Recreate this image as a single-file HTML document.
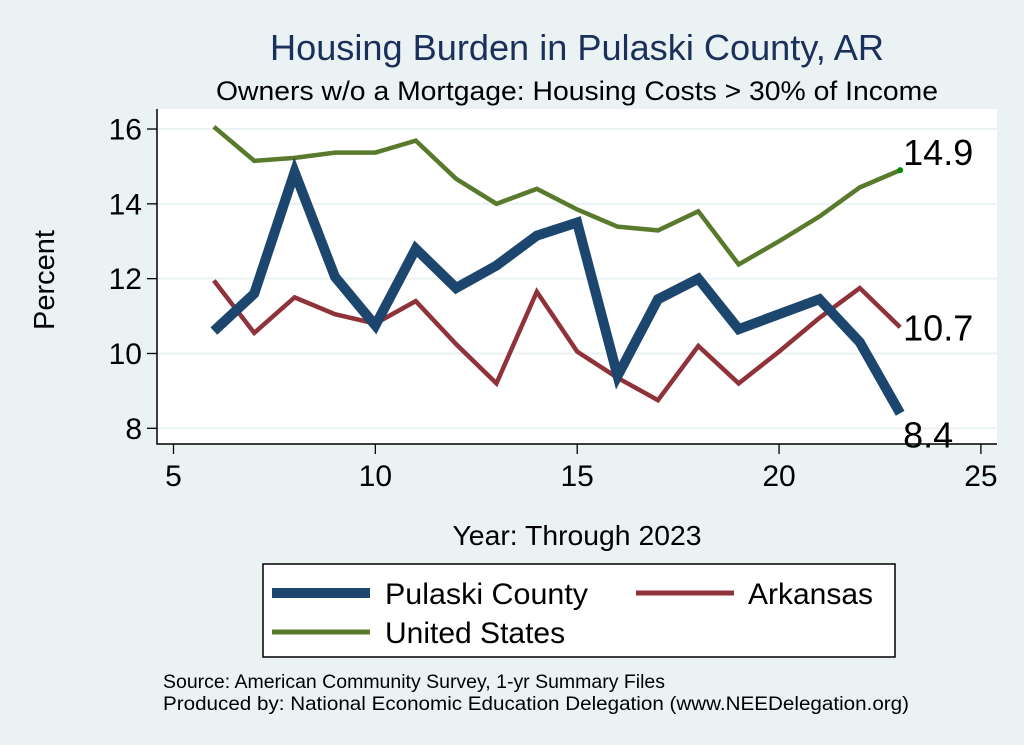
<!DOCTYPE html>
<html><head><meta charset="utf-8"><style>
body{margin:0;background:#eaf2f3;}
svg{display:block;font-family:"Liberation Sans",sans-serif;}
</style></head><body>
<svg id="chart" width="1024" height="745">
<rect x="0" y="0" width="1024" height="745" fill="#eaf2f3"/>
<text x="577" y="60" font-size="36" fill="#1a2f5a" text-anchor="middle" textLength="614" lengthAdjust="spacingAndGlyphs">Housing Burden in Pulaski County, AR</text>
<text x="577" y="100" font-size="27" fill="#000" text-anchor="middle" textLength="722" lengthAdjust="spacingAndGlyphs">Owners w/o a Mortgage: Housing Costs &gt; 30% of Income</text>
<rect x="157" y="109" width="840" height="335" fill="#fff"/>
<g id="grid"></g>
<g id="axes"></g>
<g id="series"></g>
<text transform="translate(54,280) rotate(-90)" font-size="29" text-anchor="middle">Percent</text>
<text x="577" y="545" font-size="28" text-anchor="middle" textLength="249" lengthAdjust="spacingAndGlyphs">Year: Through 2023</text>
<g>
<rect x="263" y="564" width="632" height="93" fill="#fff" stroke="#000" stroke-width="1.5"/>
<line x1="272" y1="593" x2="370" y2="593" stroke="#1c466e" stroke-width="10"/>
<text x="385" y="604" font-size="30" textLength="203" lengthAdjust="spacingAndGlyphs">Pulaski County</text>
<line x1="636" y1="593" x2="734" y2="593" stroke="#8f3239" stroke-width="5"/>
<text x="748" y="604" font-size="30">Arkansas</text>
<line x1="272" y1="632" x2="370" y2="632" stroke="#597a2d" stroke-width="5"/>
<text x="385" y="643" font-size="30">United States</text>
</g>
<text x="163" y="688" font-size="19.5" textLength="502" lengthAdjust="spacingAndGlyphs">Source: American Community Survey, 1-yr Summary Files</text>
<text x="163" y="710" font-size="19.5" textLength="746" lengthAdjust="spacingAndGlyphs">Produced by: National Economic Education Delegation (www.NEEDelegation.org)</text>
</svg>
<script>
const years=[6,7,8,9,10,11,12,13,14,15,16,17,18,19,20,21,22,23];
const pulaski=[10.6,11.6,14.85,12.05,10.75,12.8,11.75,12.35,13.15,13.5,9.4,11.45,12.0,10.65,11.05,11.45,10.3,8.4];
const arkansas=[11.95,10.55,11.5,11.05,10.8,11.4,10.25,9.2,11.65,10.05,9.35,8.75,10.2,9.2,10.05,10.95,11.75,10.7];
const usa=[16.06,15.15,15.23,15.37,15.37,15.69,14.67,14.0,14.4,13.85,13.39,13.29,13.8,12.38,13.0,13.66,14.44,14.9];
const xTicks=[5,10,15,20,25];
const yTicks=[8,10,12,14,16];
const NS="http://www.w3.org/2000/svg";
const X=v=>173.5+(v-5)*40.37;
const Y=v=>428.3-(v-8)*37.41;
function mk(tag,attrs,parent){const e=document.createElementNS(NS,tag);for(const k in attrs)e.setAttribute(k,attrs[k]);parent.appendChild(e);return e;}
const grid=document.getElementById('grid'),axes=document.getElementById('axes'),ser=document.getElementById('series');
yTicks.forEach(t=>{
  const g=mk('line',{x1:157,x2:997,y1:Y(t),y2:Y(t),stroke:'#eaf2f3','stroke-width':2},grid);
  
  
  const tk=mk('line',{x1:147,x2:157,y1:Y(t),y2:Y(t),stroke:'#000','stroke-width':1.3},axes);
  
  
  const lb=mk('text',{x:142,y:Y(t)+10.5,'font-size':30,'text-anchor':'end'},axes);
  lb.textContent=t;
  
  
});
xTicks.forEach(t=>{
  const tk=mk('line',{x1:X(t),x2:X(t),y1:444,y2:454,stroke:'#000','stroke-width':1.3},axes);
  
  
  const lb=mk('text',{x:X(t),y:486,'font-size':30,'text-anchor':'middle'},axes);
  lb.textContent=t;
  
  
});
const ax=mk('path',{d:'M157,109 V444 H997',fill:'none',stroke:'#000','stroke-width':1.5},axes);


function line(vals,color,w,name){
  const p=mk('polyline',{points:years.map((y,i)=>X(y)+','+Y(vals[i])).join(' '),fill:'none',stroke:color,'stroke-width':w,'stroke-linejoin':'miter'},ser);
  
  
}
line(usa,'#597a2d',4.5,'line-united-states');
line(arkansas,'#8f3239',4.5,'line-arkansas');
line(pulaski,'#1c466e',10,'line-pulaski-county');
const last=years.length-1;
const dot=mk('circle',{cx:X(years[last]),cy:Y(usa[last]),r:3,fill:'#0a8a0a'},ser);


[[usa,-5,'end-label-us'],[arkansas,13,'end-label-arkansas'],[pulaski,34,'end-label-pulaski']].forEach(([v,dy,n])=>{
  const t=mk('text',{x:X(years[last])+3,y:Y(v[last])+dy,'font-size':36},ser);
  t.textContent=v[last].toFixed(1);
  
  
});
</script>
</body></html>
